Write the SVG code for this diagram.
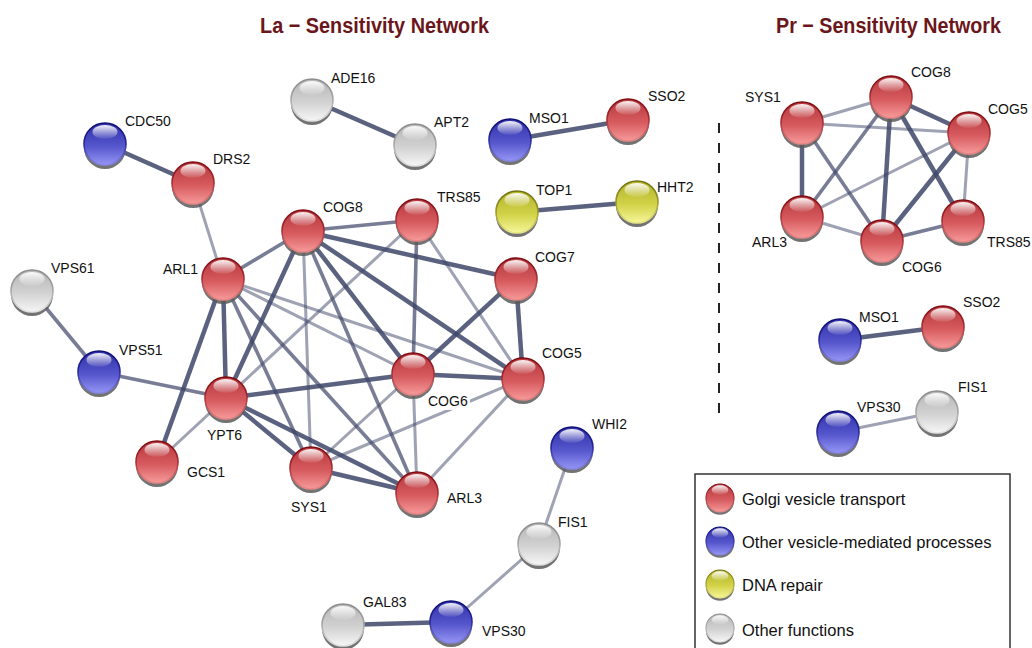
<svg xmlns="http://www.w3.org/2000/svg" width="1032" height="648" viewBox="0 0 1032 648">
<style>
.lbl{font-family:"Liberation Sans",Arial,sans-serif;font-size:14px;fill:#111}
.ttl{font-family:"Liberation Sans",Arial,sans-serif;font-weight:bold;font-size:22px;fill:#6b161b}
.leg{font-family:"Liberation Sans",Arial,sans-serif;font-size:16.5px;fill:#111}
.e line{stroke:#3f4769;stroke-linecap:butt}
.t{stroke-width:4.5;opacity:.85}
.m{stroke-width:3.6;opacity:.7}
.l{stroke-width:3;opacity:.5}
</style>
<defs>
<linearGradient id="bR" x1="0" y1="0" x2="0" y2="1"><stop offset="0" stop-color="#b5363b"/><stop offset=".55" stop-color="#d65a5e"/><stop offset="1" stop-color="#f79a9a"/></linearGradient>
<linearGradient id="sR" x1="0" y1="0" x2="0" y2="1"><stop offset="0" stop-color="#7a0a0f"/><stop offset=".5" stop-color="#a83036"/><stop offset="1" stop-color="#e88888"/></linearGradient>
<linearGradient id="bB" x1="0" y1="0" x2="0" y2="1"><stop offset="0" stop-color="#2f2fa8"/><stop offset=".55" stop-color="#5555cc"/><stop offset="1" stop-color="#9595f5"/></linearGradient>
<linearGradient id="sB" x1="0" y1="0" x2="0" y2="1"><stop offset="0" stop-color="#0c0c70"/><stop offset=".5" stop-color="#2a2a9a"/><stop offset="1" stop-color="#8888e8"/></linearGradient>
<linearGradient id="bY" x1="0" y1="0" x2="0" y2="1"><stop offset="0" stop-color="#b3b32a"/><stop offset=".55" stop-color="#d2d248"/><stop offset="1" stop-color="#f6f69a"/></linearGradient>
<linearGradient id="sY" x1="0" y1="0" x2="0" y2="1"><stop offset="0" stop-color="#707010"/><stop offset=".5" stop-color="#9a9a28"/><stop offset="1" stop-color="#e8e888"/></linearGradient>
<linearGradient id="bG" x1="0" y1="0" x2="0" y2="1"><stop offset="0" stop-color="#b5b5b5"/><stop offset=".55" stop-color="#d2d2d2"/><stop offset="1" stop-color="#f6f6f6"/></linearGradient>
<linearGradient id="sG" x1="0" y1="0" x2="0" y2="1"><stop offset="0" stop-color="#8a8a8a"/><stop offset=".5" stop-color="#a8a8a8"/><stop offset="1" stop-color="#e4e4e4"/></linearGradient>
<linearGradient id="hl" x1="0" y1="0" x2="0" y2="1"><stop offset="0" stop-color="#fff" stop-opacity=".95"/><stop offset="1" stop-color="#fff" stop-opacity=".05"/></linearGradient>
<g id="ballR"><circle cx="0" cy="4" r="21" fill="#5a5a5a" opacity=".85"/><circle r="21" fill="url(#bR)" stroke="url(#sR)" stroke-width="1.6"/><ellipse cx="0" cy="-12" rx="12.5" ry="7" fill="url(#hl)"/></g>
<g id="ballB"><circle cx="0" cy="4" r="21" fill="#5a5a5a" opacity=".85"/><circle r="21" fill="url(#bB)" stroke="url(#sB)" stroke-width="1.6"/><ellipse cx="0" cy="-12" rx="12.5" ry="7" fill="url(#hl)"/></g>
<g id="ballY"><circle cx="0" cy="4" r="21" fill="#5a5a5a" opacity=".85"/><circle r="21" fill="url(#bY)" stroke="url(#sY)" stroke-width="1.6"/><ellipse cx="0" cy="-12" rx="12.5" ry="7" fill="url(#hl)"/></g>
<g id="ballG"><circle cx="0" cy="4" r="21" fill="#5a5a5a" opacity=".85"/><circle r="21" fill="url(#bG)" stroke="url(#sG)" stroke-width="1.6"/><ellipse cx="0" cy="-12" rx="12.5" ry="7" fill="url(#hl)"/></g>
</defs>
<rect width="1032" height="648" fill="#fff"/>
<text class="ttl" x="260" y="33" textLength="229" lengthAdjust="spacingAndGlyphs">La − Sensitivity Network</text>
<text class="ttl" x="776" y="33" textLength="225" lengthAdjust="spacingAndGlyphs">Pr − Sensitivity Network</text>
<line x1="719" y1="123" x2="719" y2="423" stroke="#222" stroke-width="2" stroke-dasharray="10 10"/>
<g id="connectors" class="e">
<line class="t" x1="105" y1="144" x2="193" y2="183"/>
<line class="l" x1="193" y1="183" x2="223" y2="279"/>
<line class="m" x1="32" y1="291" x2="99" y2="372"/>
<line class="m" x1="99" y1="372" x2="226" y2="398"/>
<line class="t" x1="312" y1="100" x2="415" y2="145"/>
<line class="t" x1="510" y1="140" x2="628" y2="120"/>
<line class="t" x1="517" y1="212" x2="637" y2="202"/>
<line class="l" x1="572" y1="448" x2="539" y2="544"/>
<line class="l" x1="539" y1="544" x2="451" y2="622"/>
<line class="t" x1="343" y1="625" x2="451" y2="622"/>
<line class="m" x1="303" y1="231" x2="417" y2="220"/>
<line class="t" x1="303" y1="231" x2="516" y2="279"/>
<line class="m" x1="303" y1="231" x2="223" y2="279"/>
<line class="t" x1="303" y1="231" x2="226" y2="398"/>
<line class="l" x1="303" y1="231" x2="311" y2="468"/>
<line class="t" x1="303" y1="231" x2="413" y2="374"/>
<line class="m" x1="303" y1="231" x2="417" y2="493"/>
<line class="t" x1="303" y1="231" x2="523" y2="379"/>
<line class="t" x1="223" y1="279" x2="226" y2="398"/>
<line class="t" x1="223" y1="279" x2="157" y2="462"/>
<line class="l" x1="223" y1="279" x2="413" y2="374"/>
<line class="l" x1="223" y1="279" x2="523" y2="379"/>
<line class="m" x1="223" y1="279" x2="311" y2="468"/>
<line class="m" x1="223" y1="279" x2="417" y2="493"/>
<line class="l" x1="226" y1="398" x2="417" y2="220"/>
<line class="t" x1="226" y1="398" x2="413" y2="374"/>
<line class="t" x1="226" y1="398" x2="311" y2="468"/>
<line class="t" x1="226" y1="398" x2="417" y2="493"/>
<line class="l" x1="226" y1="398" x2="157" y2="462"/>
<line class="m" x1="417" y1="220" x2="413" y2="374"/>
<line class="l" x1="417" y1="220" x2="523" y2="379"/>
<line class="t" x1="516" y1="279" x2="413" y2="374"/>
<line class="t" x1="516" y1="279" x2="523" y2="379"/>
<line class="t" x1="413" y1="374" x2="523" y2="379"/>
<line class="l" x1="413" y1="374" x2="417" y2="493"/>
<line class="l" x1="413" y1="374" x2="311" y2="468"/>
<line class="l" x1="523" y1="379" x2="417" y2="493"/>
<line class="l" x1="523" y1="379" x2="311" y2="468"/>
<line class="t" x1="311" y1="468" x2="417" y2="493"/>
<line class="l" x1="802" y1="123" x2="891" y2="97"/>
<line class="l" x1="802" y1="123" x2="969" y2="133"/>
<line class="t" x1="802" y1="123" x2="802" y2="217"/>
<line class="m" x1="802" y1="123" x2="882" y2="241"/>
<line class="t" x1="891" y1="97" x2="969" y2="133"/>
<line class="m" x1="891" y1="97" x2="802" y2="217"/>
<line class="t" x1="891" y1="97" x2="882" y2="241"/>
<line class="t" x1="891" y1="97" x2="963" y2="221"/>
<line class="l" x1="969" y1="133" x2="802" y2="217"/>
<line class="t" x1="969" y1="133" x2="882" y2="241"/>
<line class="l" x1="969" y1="133" x2="963" y2="221"/>
<line class="l" x1="802" y1="217" x2="882" y2="241"/>
<line class="m" x1="882" y1="241" x2="963" y2="221"/>
<line class="t" x1="840" y1="340" x2="943" y2="327"/>
<line class="l" x1="838" y1="432" x2="937" y2="412"/>
</g>
<g id="la-ADE16"><use href="#ballG" x="312" y="100"/><text class="lbl" x="331" y="83">ADE16</text></g>
<g id="la-APT2"><use href="#ballG" x="415" y="145"/><text class="lbl" x="434" y="127">APT2</text></g>
<g id="la-MSO1"><use href="#ballB" x="510" y="140"/><text class="lbl" x="529" y="123">MSO1</text></g>
<g id="la-SSO2"><use href="#ballR" x="628" y="120"/><text class="lbl" x="648" y="101">SSO2</text></g>
<g id="la-TOP1"><use href="#ballY" x="517" y="212"/><text class="lbl" x="536" y="195">TOP1</text></g>
<g id="la-HHT2"><use href="#ballY" x="637" y="202"/><text class="lbl" x="657" y="192">HHT2</text></g>
<g id="la-TRS85"><use href="#ballR" x="417" y="220"/><text class="lbl" x="437" y="202">TRS85</text></g>
<g id="la-COG8"><use href="#ballR" x="303" y="231"/><text class="lbl" x="323" y="212">COG8</text></g>
<g id="la-COG7"><use href="#ballR" x="516" y="279"/><text class="lbl" x="535" y="262">COG7</text></g>
<g id="la-ARL1"><use href="#ballR" x="223" y="279"/><text class="lbl" x="163" y="274">ARL1</text></g>
<g id="la-COG6"><use href="#ballR" x="413" y="374"/><rect x="425" y="393" width="45" height="17" rx="4" fill="#fff" opacity=".9"/><text class="lbl" x="428" y="406">COG6</text></g>
<g id="la-COG5"><use href="#ballR" x="523" y="379"/><text class="lbl" x="542" y="358">COG5</text></g>
<g id="la-YPT6"><use href="#ballR" x="226" y="398"/><text class="lbl" x="207" y="440">YPT6</text></g>
<g id="la-SYS1"><use href="#ballR" x="311" y="468"/><text class="lbl" x="291" y="512">SYS1</text></g>
<g id="la-ARL3"><use href="#ballR" x="417" y="493"/><text class="lbl" x="447" y="503">ARL3</text></g>
<g id="la-CDC50"><use href="#ballB" x="105" y="144"/><text class="lbl" x="125" y="126">CDC50</text></g>
<g id="la-DRS2"><use href="#ballR" x="193" y="183"/><text class="lbl" x="213" y="164">DRS2</text></g>
<g id="la-VPS61"><use href="#ballG" x="32" y="291"/><text class="lbl" x="51" y="273">VPS61</text></g>
<g id="la-VPS51"><use href="#ballB" x="99" y="372"/><text class="lbl" x="119" y="355">VPS51</text></g>
<g id="la-GCS1"><use href="#ballR" x="157" y="462"/><text class="lbl" x="187" y="477">GCS1</text></g>
<g id="la-WHI2"><use href="#ballB" x="572" y="448"/><text class="lbl" x="592" y="429">WHI2</text></g>
<g id="la-FIS1"><use href="#ballG" x="539" y="544"/><text class="lbl" x="558" y="527">FIS1</text></g>
<g id="la-GAL83"><use href="#ballG" x="343" y="625"/><text class="lbl" x="363" y="607">GAL83</text></g>
<g id="la-VPS30"><use href="#ballB" x="451" y="622"/><text class="lbl" x="482" y="636">VPS30</text></g>
<g id="pr-SYS1"><use href="#ballR" x="802" y="123"/><text class="lbl" x="745" y="102">SYS1</text></g>
<g id="pr-COG8"><use href="#ballR" x="891" y="97"/><text class="lbl" x="911" y="77">COG8</text></g>
<g id="pr-COG5"><use href="#ballR" x="969" y="133"/><text class="lbl" x="988" y="114">COG5</text></g>
<g id="pr-ARL3"><use href="#ballR" x="802" y="217"/><text class="lbl" x="752" y="247">ARL3</text></g>
<g id="pr-COG6"><use href="#ballR" x="882" y="241"/><text class="lbl" x="902" y="272">COG6</text></g>
<g id="pr-TRS85"><use href="#ballR" x="963" y="221"/><text class="lbl" x="987" y="247">TRS85</text></g>
<g id="pr-MSO1"><use href="#ballB" x="840" y="340"/><text class="lbl" x="859" y="322">MSO1</text></g>
<g id="pr-SSO2"><use href="#ballR" x="943" y="327"/><text class="lbl" x="963" y="307">SSO2</text></g>
<g id="pr-VPS30"><use href="#ballB" x="838" y="432"/><text class="lbl" x="857" y="412">VPS30</text></g>
<g id="pr-FIS1"><use href="#ballG" x="937" y="412"/><text class="lbl" x="958" y="392">FIS1</text></g>
<g id="legend">
<rect x="695" y="474" width="315" height="190" fill="#fff" stroke="#333" stroke-width="1.5"/>
<use href="#ballR" transform="translate(720 498) scale(.67)"/>
<text class="leg" x="742" y="505">Golgi vesicle transport</text>
<use href="#ballB" transform="translate(720 541) scale(.67)"/>
<text class="leg" x="742" y="548">Other vesicle-mediated processes</text>
<use href="#ballY" transform="translate(720 584) scale(.67)"/>
<text class="leg" x="742" y="591">DNA repair</text>
<use href="#ballG" transform="translate(720 628) scale(.67)"/>
<text class="leg" x="742" y="636">Other functions</text>
</g>
</svg>
